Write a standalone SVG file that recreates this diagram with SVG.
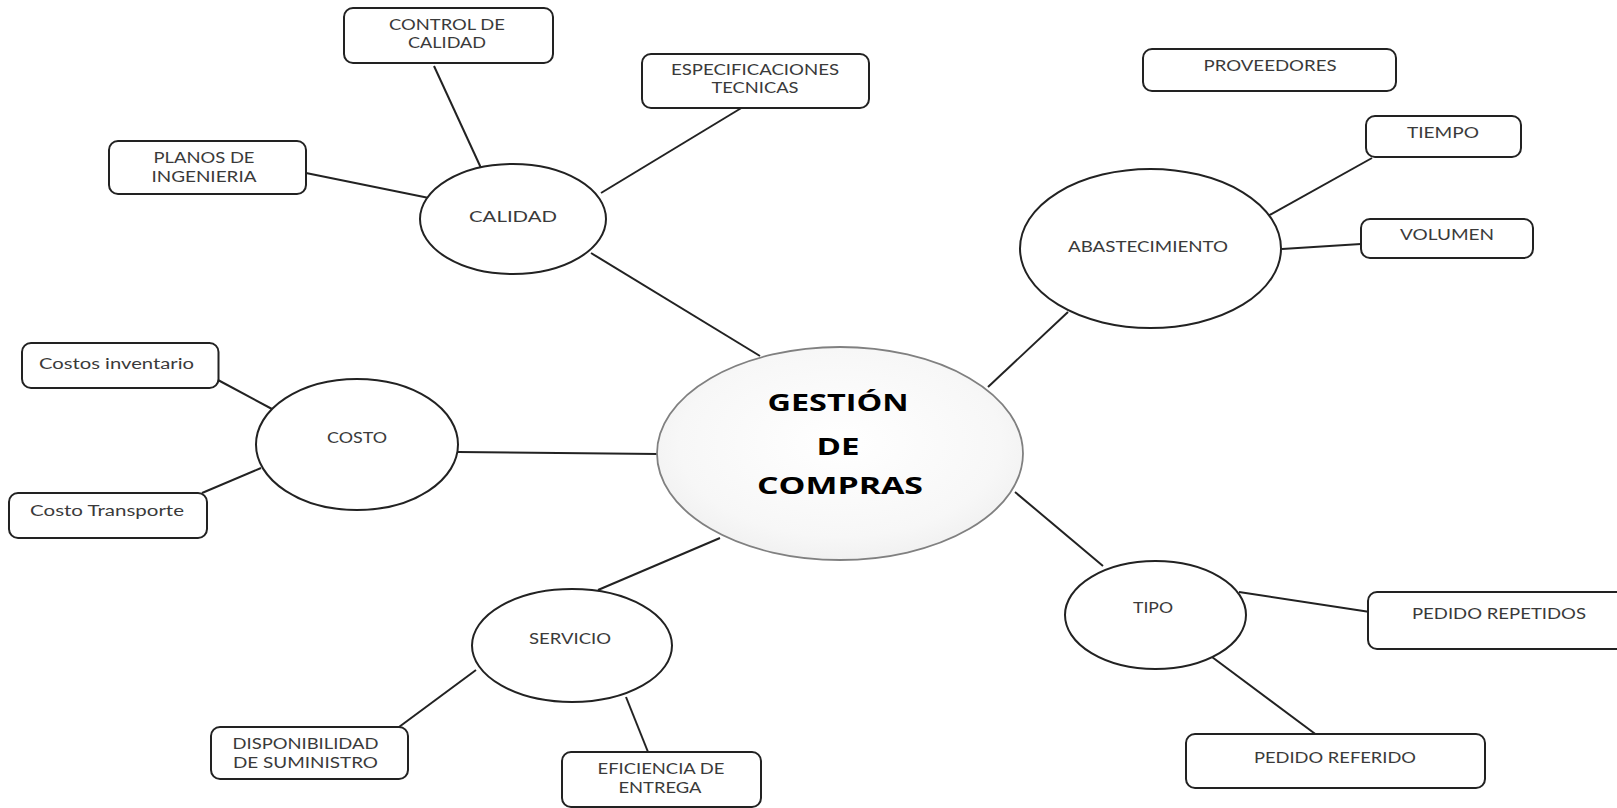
<svg xmlns="http://www.w3.org/2000/svg" width="1617" height="808" viewBox="0 0 1617 808">
<defs>
<radialGradient id="g" cx="50%" cy="45%" r="55%">
<stop offset="0" stop-color="#ffffff"/>
<stop offset="0.8" stop-color="#f7f7f7"/>
<stop offset="1" stop-color="#f1f1f1"/>
</radialGradient>
<style>
.box{fill:#fff;stroke:#222;stroke-width:2}
.ell{fill:#fff;stroke:#222;stroke-width:2}
.main{fill:url(#g);stroke:#808080;stroke-width:1.8}
.t{font-family:Lato,"Open Sans","Liberation Sans",sans-serif;font-size:14.5px;fill:#3a3a3a;text-anchor:middle}
.b{font-family:"Open Sans",Lato,"Liberation Sans",sans-serif;font-size:23px;font-weight:bold;fill:#000;text-anchor:middle}
.c line{stroke:#222;stroke-width:2}
</style>
</defs>
<rect width="1617" height="808" fill="#fff"/>
<g class="c" id="connectors">
<line x1="434" y1="66" x2="481" y2="168"/>
<line x1="306" y1="173" x2="429" y2="198"/>
<line x1="743" y1="107" x2="601" y2="193"/>
<line x1="591" y1="253" x2="760" y2="356"/>
<line x1="1372" y1="158" x2="1266" y2="217"/>
<line x1="1361" y1="244" x2="1282" y2="249"/>
<line x1="1068" y1="312" x2="988" y2="387"/>
<line x1="218" y1="380" x2="272" y2="409"/>
<line x1="202" y1="493" x2="261" y2="468"/>
<line x1="458" y1="452" x2="658" y2="454"/>
<line x1="720" y1="538" x2="598" y2="590"/>
<line x1="476" y1="670" x2="399" y2="727"/>
<line x1="626" y1="697" x2="648" y2="752"/>
<line x1="1015" y1="492" x2="1103" y2="566"/>
<line x1="1239" y1="592" x2="1370" y2="612"/>
<line x1="1212" y1="657" x2="1318" y2="736"/>
</g>
<g id="gestion">
<ellipse class="main" cx="840" cy="453.5" rx="183" ry="106.5"/>
<text class="b" x="838" y="411" textLength="141" lengthAdjust="spacingAndGlyphs">GESTIÓN</text>
<text class="b" x="838" y="455" textLength="43" lengthAdjust="spacingAndGlyphs">DE</text>
<text class="b" x="840" y="494" textLength="166" lengthAdjust="spacingAndGlyphs">COMPRAS</text>
</g>
<g id="calidad">
<ellipse class="ell" cx="513" cy="219" rx="93" ry="55"/>
<text class="t" x="513" y="221.5" textLength="88" lengthAdjust="spacingAndGlyphs">CALIDAD</text>
</g>
<g id="control-calidad">
<rect class="box" x="344" y="8" width="209" height="55" rx="9"/>
<text class="t" x="447" y="29.5" textLength="116" lengthAdjust="spacingAndGlyphs">CONTROL DE</text>
<text class="t" x="447" y="47.5" textLength="78" lengthAdjust="spacingAndGlyphs">CALIDAD</text>
</g>
<g id="planos">
<rect class="box" x="109" y="141" width="197" height="53" rx="9"/>
<text class="t" x="204" y="162.5" textLength="101" lengthAdjust="spacingAndGlyphs">PLANOS DE</text>
<text class="t" x="204" y="181.5" textLength="105" lengthAdjust="spacingAndGlyphs">INGENIERIA</text>
</g>
<g id="especificaciones">
<rect class="box" x="642" y="54" width="227" height="54" rx="9"/>
<text class="t" x="755" y="74.5" textLength="168" lengthAdjust="spacingAndGlyphs">ESPECIFICACIONES</text>
<text class="t" x="755" y="92.5" textLength="87" lengthAdjust="spacingAndGlyphs">TECNICAS</text>
</g>
<g id="proveedores">
<rect class="box" x="1143" y="49" width="253" height="42" rx="9"/>
<text class="t" x="1270" y="71" textLength="133" lengthAdjust="spacingAndGlyphs">PROVEEDORES</text>
</g>
<g id="abastecimiento">
<ellipse class="ell" cx="1150.5" cy="248.5" rx="130.5" ry="79.5"/>
<text class="t" x="1148" y="251.5" textLength="160" lengthAdjust="spacingAndGlyphs">ABASTECIMIENTO</text>
</g>
<g id="tiempo">
<rect class="box" x="1366" y="116" width="155" height="41" rx="9"/>
<text class="t" x="1443" y="137.5" textLength="72" lengthAdjust="spacingAndGlyphs">TIEMPO</text>
</g>
<g id="volumen">
<rect class="box" x="1361" y="219" width="172" height="39" rx="9"/>
<text class="t" x="1447" y="239.5" textLength="94" lengthAdjust="spacingAndGlyphs">VOLUMEN</text>
</g>
<g id="costo">
<ellipse class="ell" cx="357" cy="444.5" rx="101" ry="65.5"/>
<text class="t" x="357" y="443" textLength="60" lengthAdjust="spacingAndGlyphs">COSTO</text>
</g>
<g id="costos-inventario">
<rect class="box" x="22" y="343" width="196.5" height="45" rx="9"/>
<text class="t" x="116.5" y="369" textLength="155" lengthAdjust="spacingAndGlyphs">Costos inventario</text>
</g>
<g id="costo-transporte">
<rect class="box" x="9" y="493" width="198" height="45" rx="9"/>
<text class="t" x="107" y="516" textLength="154" lengthAdjust="spacingAndGlyphs">Costo Transporte</text>
</g>
<g id="servicio">
<ellipse class="ell" cx="572" cy="645.5" rx="100" ry="56.5"/>
<text class="t" x="570" y="644" textLength="82" lengthAdjust="spacingAndGlyphs">SERVICIO</text>
</g>
<g id="disponibilidad">
<rect class="box" x="211" y="727" width="197" height="52" rx="9"/>
<text class="t" x="305.5" y="749" textLength="146" lengthAdjust="spacingAndGlyphs">DISPONIBILIDAD</text>
<text class="t" x="305.5" y="768" textLength="145" lengthAdjust="spacingAndGlyphs">DE SUMINISTRO</text>
</g>
<g id="eficiencia">
<rect class="box" x="562" y="752" width="199" height="55" rx="9"/>
<text class="t" x="661" y="774" textLength="127" lengthAdjust="spacingAndGlyphs">EFICIENCIA DE</text>
<text class="t" x="660" y="793" textLength="83" lengthAdjust="spacingAndGlyphs">ENTREGA</text>
</g>
<g id="tipo">
<ellipse class="ell" cx="1155.5" cy="615" rx="90.5" ry="54"/>
<text class="t" x="1153" y="613" textLength="40" lengthAdjust="spacingAndGlyphs">TIPO</text>
</g>
<g id="pedido-repetidos">
<rect class="box" x="1368" y="592" width="270" height="57" rx="9"/>
<text class="t" x="1499" y="619" textLength="174" lengthAdjust="spacingAndGlyphs">PEDIDO REPETIDOS</text>
</g>
<g id="pedido-referido">
<rect class="box" x="1186" y="734" width="299" height="54" rx="9"/>
<text class="t" x="1335" y="763" textLength="162" lengthAdjust="spacingAndGlyphs">PEDIDO REFERIDO</text>
</g>
</svg>
